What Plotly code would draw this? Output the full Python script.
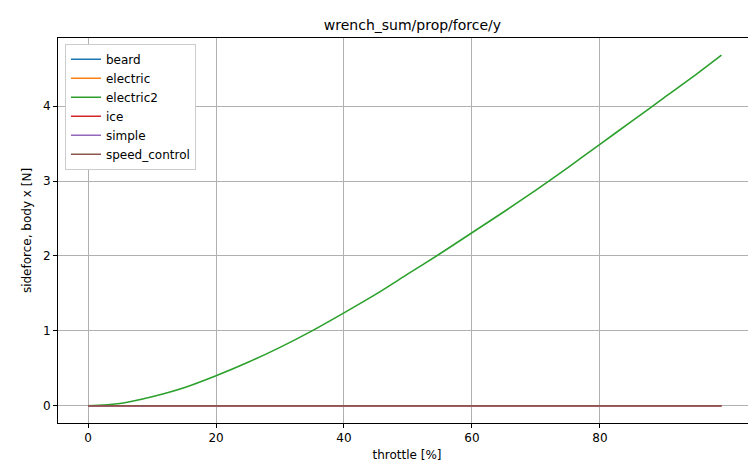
import plotly.graph_objects as go

throttle = [0, 5, 10, 15, 20, 25, 30, 35, 40, 45, 50, 55, 60, 65, 70, 75, 80, 85, 90, 95, 99]
electric2 = [0, 0.03, 0.12, 0.24, 0.40, 0.58, 0.78, 1.0, 1.24, 1.49, 1.76, 2.03, 2.31,
             2.59, 2.88, 3.18, 3.49, 3.80, 4.11, 4.42, 4.68]
flat_x = [0, 99]
flat_y = [0, 0]

series = [
    ("beard", "#1f77b4", flat_x, flat_y),
    ("electric", "#ff7f0e", flat_x, flat_y),
    ("electric2", "#2ca02c", throttle, electric2),
    ("ice", "#d62728", flat_x, flat_y),
    ("simple", "#9467bd", flat_x, flat_y),
    ("speed_control", "#8c564b", flat_x, flat_y),
]

fig = go.Figure()
for name, color, xs, ys in series:
    fig.add_trace(go.Scatter(x=xs, y=ys, name=name, mode="lines",
                             line=dict(color=color, width=1.6, shape="spline", smoothing=0.8)))

axis = dict(showgrid=True, gridcolor="#b0b0b0", gridwidth=0.8, zeroline=False,
            showline=True, linecolor="black", mirror=True, ticks="outside",
            ticklen=4, tickcolor="black", tickfont=dict(size=12, color="black"),
            automargin=False)
fig.update_layout(
    width=756, height=469,
    font=dict(family="DejaVu Sans", color="black"),
    paper_bgcolor="white", plot_bgcolor="white",
    margin=dict(l=50, r=8, t=30, b=54),
    title=dict(text="wrench_sum/prop/force/y", x=0.535, xanchor="center", y=0.975,
               font=dict(size=14)),
    xaxis=dict(axis, range=[-4.7, 104.4], tickvals=[0, 20, 40, 60, 80],
               title=dict(text="throttle [%]", font=dict(size=12), standoff=6)),
    yaxis=dict(axis, range=[-0.23, 4.91], tickvals=[0, 1, 2, 3, 4],
               title=dict(text="sideforce, body x [N]", font=dict(size=12), standoff=8)),
    legend=dict(x=0.01, y=0.985, xanchor="left", yanchor="top", bgcolor="white",
                bordercolor="#cccccc", borderwidth=1, font=dict(size=12)),
)

fig.write_html("out.html")
